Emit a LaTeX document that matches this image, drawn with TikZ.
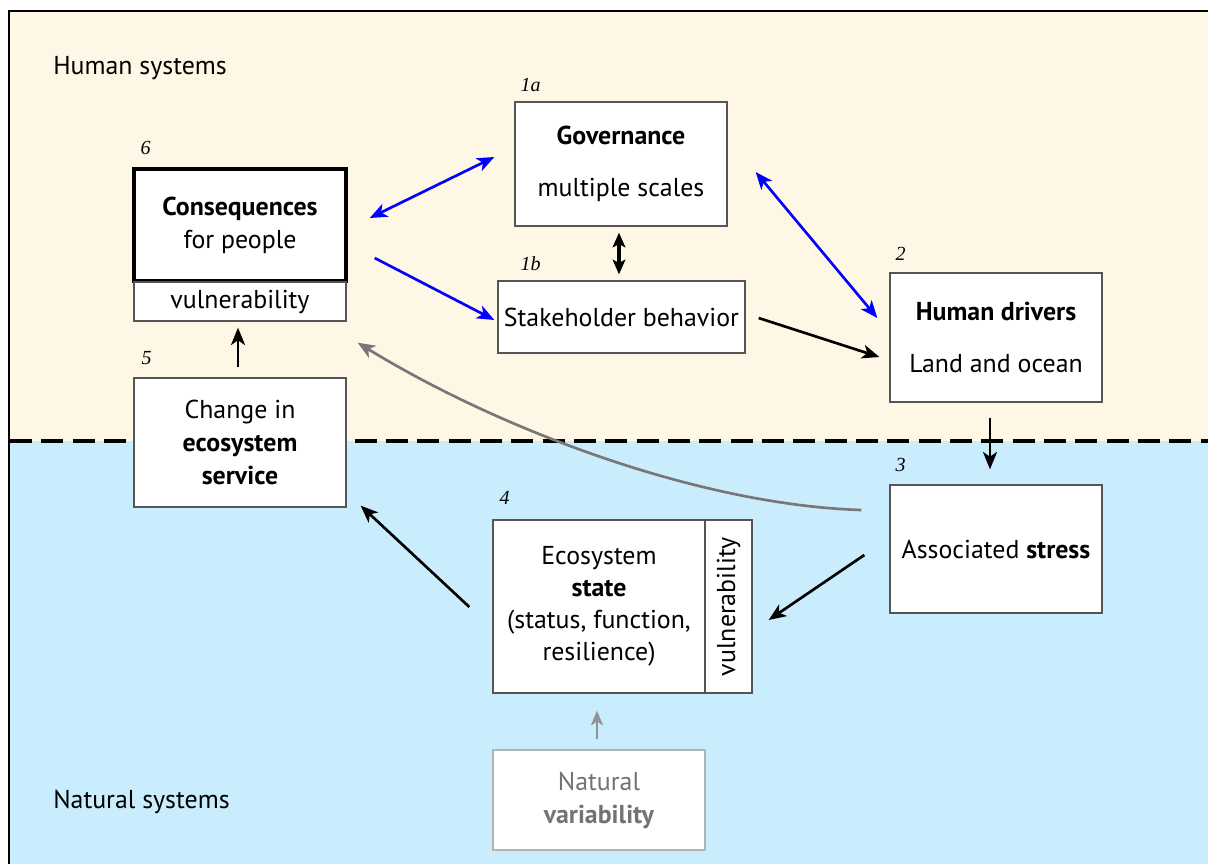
\documentclass[tikz,border=0pt]{standalone}
\usepackage{fontspec}
\setmainfont{PT Sans}
\newfontfamily\numfont{Liberation Serif}
\usepackage{graphicx}
\usetikzlibrary{arrows.meta,calc}
\definecolor{cream}{HTML}{FFF7E5}
\definecolor{sky}{HTML}{C9EDFD}
\definecolor{boxline}{HTML}{555555}
\definecolor{curvegray}{HTML}{777777}
\newcommand\mainfs{\fontsize{19.4}{24.75}\selectfont}
\begin{document}
\begin{tikzpicture}[x=0.75pt,y=-0.75pt,
  box/.style={draw=boxline, fill=white, line width=1pt, inner sep=0pt, align=center, font=\mainfs},
  num/.style={font=\numfont\itshape\fontsize{15}{15}\selectfont, anchor=base west, inner sep=0pt},
  region/.style={font=\mainfs, anchor=west, inner sep=0pt},
  tip/.style={Stealth[length=13pt,width=10.5pt,inset=3.5pt]},
  blu/.style={draw=blue, line width=2pt, -{Stealth[length=13pt,width=10.5pt,inset=3.5pt]}},
  bludbl/.style={draw=blue, line width=2pt, {Stealth[length=13pt,width=10.5pt,inset=3.5pt]}-{Stealth[length=13pt,width=10.5pt,inset=3.5pt]}},
  blk/.style={draw=black, line width=2pt, -{Stealth[length=13pt,width=10.5pt,inset=3.5pt]}},
  blkdbl/.style={draw=black, line width=2.6pt, {Stealth[length=11pt,width=9.5pt,inset=2.5pt]}-{Stealth[length=11pt,width=9.5pt,inset=2.5pt]}},
  gry/.style={draw=curvegray, line width=2pt, -{Stealth[length=13pt,width=10.5pt,inset=3.5pt]}}
]
\useasboundingbox (0,0) rectangle (1208,864);
\fill[white] (0,0) rectangle (1208,864);
\fill[cream] (9,11) rectangle (1208,441);
\fill[sky] (9,441) rectangle (1208,864);
\draw[line width=1.6pt] (9,864) -- (9,11) -- (1208,11);
\draw[line width=3pt, dash pattern=on 16.5pt off 7pt] (10,441) -- (1208,441);

\node[region] (human) at (53,68) {Human systems};
\node[region] (natural) at (53,802) {Natural systems};

% boxes
\node[box, draw=black, line width=2.6pt, minimum width=159pt, minimum height=84pt] (cons) at (240,225) {\textbf{Consequences}\\for people};
\node[box, minimum width=159pt, minimum height=29.25pt] (vuln) at (240,301.5) {vulnerability};
\node[box, minimum width=159pt, minimum height=93pt] (gov) at (621,164) {\textbf{Governance}\\[14pt]multiple scales};
\node[box, minimum width=185.25pt, minimum height=54pt] (stake) at (621.5,317) {Stakeholder behavior};
\node[box, minimum width=159pt, minimum height=96.75pt] (drivers) at (996,337.5) {\textbf{Human drivers}\\[14pt]Land and ocean};
\node[box, minimum width=159pt, minimum height=96pt] (stress) at (996,549) {Associated \textbf{stress}};
\node[box, minimum width=159pt, minimum height=96.75pt] (change) at (240,442.5) {Change in\\\textbf{ecosystem}\\\textbf{service}};
\node[box, minimum width=159pt, minimum height=129.75pt, font=\fontsize{19.4}{24}\selectfont] (state) at (599,606.5) {Ecosystem\\\textbf{state}\\(status, function,\\resilience)};
\node[box, minimum width=35.25pt, minimum height=129.75pt] (statevul) at (728.5,606.5) {\rotatebox{90}{vulnerability}};
\node[box, draw=black!30, text=black!55, minimum width=159pt, minimum height=75pt] (natvar) at (599,800) {Natural\\\textbf{variability}};

% numbers
\node[num] (n6) at ($(cons.north west)+(8,-13)$) {6};
\node[num] (n1a) at ($(gov.north west)+(6,-10)$) {1a};
\node[num] (n1b) at ($(stake.north west)+(23,-10)$) {1b};
\node[num] (n2) at ($(drivers.north west)+(6,-12)$) {2};
\node[num] (n5) at ($(change.north west)+(8,-13)$) {5};
\node[num] (n3) at ($(stress.north west)+(6,-13)$) {3};
\node[num] (n4) at ($(state.north west)+(7,-15)$) {4};

% connectors
\draw[bludbl] ($(cons.east)+(22,-7)$) -- ($(gov.west)+(-20,-7)$);
\draw[blu] ($(cons.east)+(27,33)$) -- ($(stake.west)+(-3,3)$);
\draw[bludbl] ($(gov.east)+(28,8)$) -- ($(drivers.west)+(-12,-19.5)$);
\draw[blkdbl] ($(gov.south)+(-2,6)$) -- ($(stake.north)+(-2.5,-6)$);
\draw[blk] ($(stake.east)+(13,1)$) -- ($(drivers.west)+(-10,19.5)$);
\draw[blk] ($(drivers.south)+(-6,15)$) -- ($(stress.north)+(-6,-15)$);
\draw[blk] ($(stress.west)+(-25,6)$) -- ($(state.east)+(63,13.5)$);
\draw[blk] ($(state.west)+(-23,0.5)$) -- ($(change.south east)+(14,-2)$);
\draw[blk] ($(change.north)+(-2,-10)$) -- ($(vuln.south)+(-2,6)$);
\draw[gry] ($(stress.west)+(-28,-39)$) .. controls (700,505) and (500,430) .. ($(vuln.south east)+(11,21)$);
\draw[draw=curvegray!80, line width=2pt, -{Stealth[length=11pt,width=9pt,inset=3pt]}] ($(natvar.north)+(-2,-10)$) -- ($(state.south)+(-2,17)$);
\end{tikzpicture}
\end{document}
